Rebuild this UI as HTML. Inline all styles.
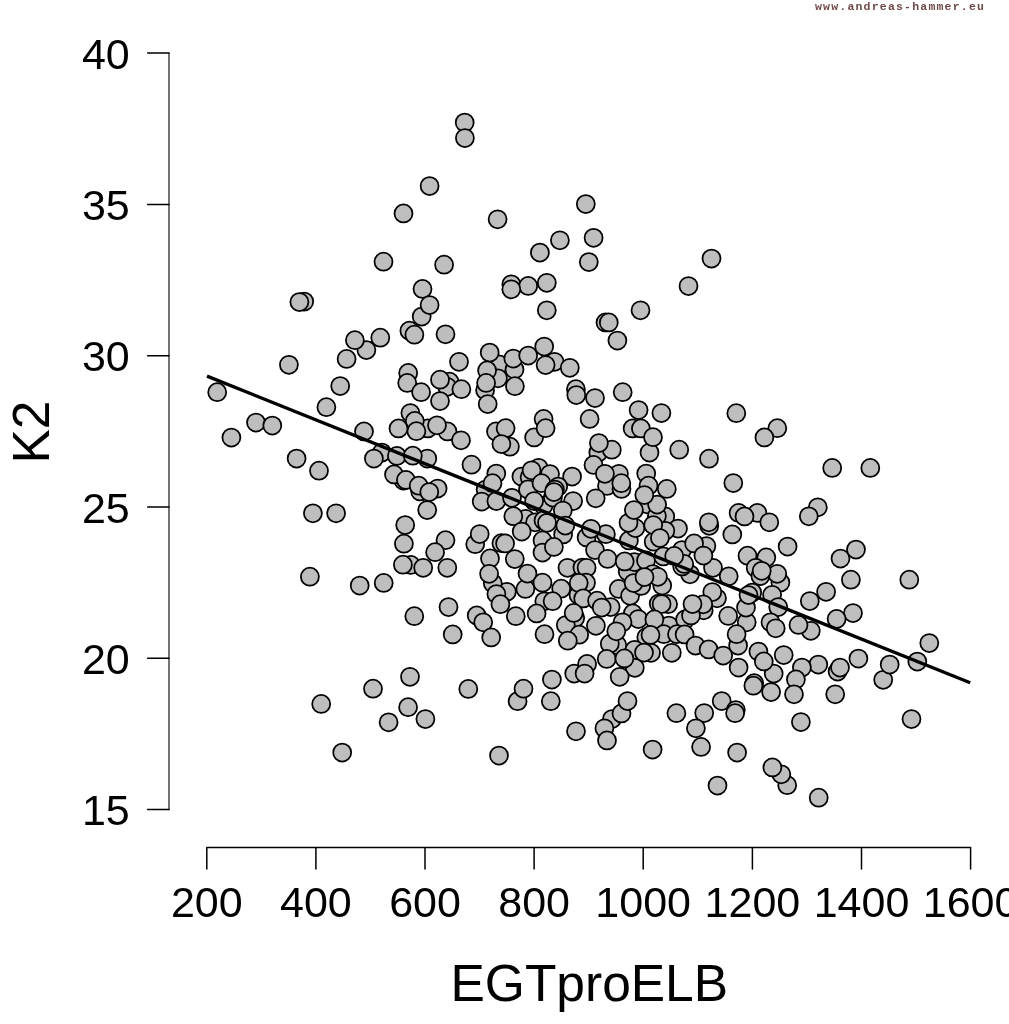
<!DOCTYPE html>
<html><head><meta charset="utf-8"><title>K2 vs EGTproELB</title>
<style>
html,body{margin:0;padding:0;background:#fff;}
body{width:1009px;height:1024px;overflow:hidden;position:relative;}
svg{position:absolute;left:0;top:0;display:block;}
text{font-family:"Liberation Sans",sans-serif;fill:#000;}
.tk{font-size:43px;}
.lab{font-size:51.5px;}
.wm{font-family:"Liberation Mono",monospace;font-size:11.5px;letter-spacing:1.2px;fill:#6e4848;font-weight:bold;}
.ax{stroke:#000;stroke-width:1.5;fill:none;stroke-linecap:round;stroke-linejoin:round;}
.pts circle{fill:#bebebe;stroke:#000;stroke-width:1.75;}
</style></head><body>
<svg width="1009" height="1024" viewBox="0 0 1009 1024">
<rect width="1009" height="1024" fill="#fff"/>
<g class="ax">
<path d="M169 53.1V809.6" stroke-width="1.1"/>
<path d="M147.6 53.1H169M147.6 204.4H169M147.6 355.7H169M147.6 507H169M147.6 658.3H169M147.6 809.6H169"/>
<path d="M206.8 869V847.5H970.6V869M315.9 847.5V869M425 847.5V869M534.1 847.5V869M643.2 847.5V869M752.4 847.5V869M861.5 847.5V869"/>
</g>
<g class="tk" text-anchor="end">
<text x="129.8" y="68.7">40</text>
<text x="129.8" y="220.0">35</text>
<text x="129.8" y="371.3">30</text>
<text x="129.8" y="522.6">25</text>
<text x="129.8" y="673.9">20</text>
<text x="129.8" y="825.2">15</text>
</g>
<g class="tk" text-anchor="middle">
<text x="206.8" y="917.4">200</text>
<text x="315.9" y="917.4">400</text>
<text x="425" y="917.4">600</text>
<text x="534.1" y="917.4">800</text>
<text x="643.2" y="917.4">1000</text>
<text x="752.4" y="917.4">1200</text>
<text x="861.5" y="917.4">1400</text>
<text x="970.6" y="917.4">1600</text>
</g>
<text class="lab" text-anchor="middle" x="589.3" y="1001">EGTproELB</text>
<text class="lab" text-anchor="middle" transform="translate(48.8 432) rotate(-90)">K2</text>
<text class="wm" x="815" y="10">www.andreas-hammer.eu</text>
<g class="pts">
<circle cx="383.5" cy="261.7" r="9"/>
<circle cx="464.7" cy="122.6" r="9"/>
<circle cx="464.9" cy="138.1" r="9"/>
<circle cx="429.6" cy="186.0" r="9"/>
<circle cx="403.5" cy="213.4" r="9"/>
<circle cx="497.6" cy="219.3" r="9"/>
<circle cx="559.9" cy="240.3" r="9"/>
<circle cx="539.9" cy="252.6" r="9"/>
<circle cx="444.1" cy="264.7" r="9"/>
<circle cx="422.5" cy="288.9" r="9"/>
<circle cx="511.3" cy="284.3" r="9"/>
<circle cx="528.2" cy="285.9" r="9"/>
<circle cx="511.3" cy="289.3" r="9"/>
<circle cx="546.8" cy="282.8" r="9"/>
<circle cx="585.8" cy="204.1" r="9"/>
<circle cx="588.8" cy="262.1" r="9"/>
<circle cx="593.6" cy="237.8" r="9"/>
<circle cx="711.5" cy="258.6" r="9"/>
<circle cx="688.5" cy="286.1" r="9"/>
<circle cx="304.2" cy="301.6" r="9"/>
<circle cx="299.4" cy="302.0" r="9"/>
<circle cx="366.4" cy="350.0" r="9"/>
<circle cx="354.9" cy="340.2" r="9"/>
<circle cx="380.3" cy="337.7" r="9"/>
<circle cx="346.6" cy="358.9" r="9"/>
<circle cx="288.9" cy="364.8" r="9"/>
<circle cx="340.2" cy="386.0" r="9"/>
<circle cx="217.2" cy="392.2" r="9"/>
<circle cx="326.4" cy="407.2" r="9"/>
<circle cx="256.0" cy="422.5" r="9"/>
<circle cx="272.3" cy="425.5" r="9"/>
<circle cx="231.4" cy="437.6" r="9"/>
<circle cx="364.0" cy="431.4" r="9"/>
<circle cx="296.6" cy="458.6" r="9"/>
<circle cx="319.0" cy="470.7" r="9"/>
<circle cx="381.9" cy="452.6" r="9"/>
<circle cx="373.9" cy="458.6" r="9"/>
<circle cx="421.7" cy="316.5" r="9"/>
<circle cx="429.6" cy="305.0" r="9"/>
<circle cx="409.4" cy="330.7" r="9"/>
<circle cx="414.4" cy="334.7" r="9"/>
<circle cx="445.5" cy="334.3" r="9"/>
<circle cx="546.8" cy="310.3" r="9"/>
<circle cx="459.0" cy="361.8" r="9"/>
<circle cx="408.2" cy="372.9" r="9"/>
<circle cx="407.2" cy="382.9" r="9"/>
<circle cx="421.1" cy="392.2" r="9"/>
<circle cx="449.5" cy="381.7" r="9"/>
<circle cx="447.1" cy="386.8" r="9"/>
<circle cx="461.4" cy="389.2" r="9"/>
<circle cx="440.0" cy="379.7" r="9"/>
<circle cx="440.0" cy="401.1" r="9"/>
<circle cx="499.0" cy="364.4" r="9"/>
<circle cx="498.0" cy="378.3" r="9"/>
<circle cx="489.7" cy="352.5" r="9"/>
<circle cx="487.1" cy="370.4" r="9"/>
<circle cx="485.1" cy="390.2" r="9"/>
<circle cx="486.1" cy="382.9" r="9"/>
<circle cx="487.7" cy="404.1" r="9"/>
<circle cx="514.5" cy="369.4" r="9"/>
<circle cx="513.3" cy="358.5" r="9"/>
<circle cx="514.9" cy="386.2" r="9"/>
<circle cx="528.2" cy="355.5" r="9"/>
<circle cx="544.2" cy="346.6" r="9"/>
<circle cx="554.5" cy="361.8" r="9"/>
<circle cx="545.6" cy="365.0" r="9"/>
<circle cx="569.8" cy="367.8" r="9"/>
<circle cx="575.9" cy="389.2" r="9"/>
<circle cx="576.3" cy="395.1" r="9"/>
<circle cx="427.7" cy="428.4" r="9"/>
<circle cx="447.5" cy="431.4" r="9"/>
<circle cx="410.4" cy="413.0" r="9"/>
<circle cx="414.8" cy="420.9" r="9"/>
<circle cx="416.4" cy="431.2" r="9"/>
<circle cx="437.0" cy="425.3" r="9"/>
<circle cx="461.0" cy="440.3" r="9"/>
<circle cx="398.5" cy="428.4" r="9"/>
<circle cx="543.6" cy="418.9" r="9"/>
<circle cx="534.1" cy="437.4" r="9"/>
<circle cx="545.6" cy="428.2" r="9"/>
<circle cx="496.0" cy="431.4" r="9"/>
<circle cx="505.6" cy="428.2" r="9"/>
<circle cx="509.9" cy="446.7" r="9"/>
<circle cx="501.4" cy="444.1" r="9"/>
<circle cx="640.5" cy="310.3" r="9"/>
<circle cx="605.5" cy="322.4" r="9"/>
<circle cx="608.8" cy="322.4" r="9"/>
<circle cx="617.4" cy="340.6" r="9"/>
<circle cx="622.7" cy="392.2" r="9"/>
<circle cx="595.0" cy="398.1" r="9"/>
<circle cx="589.6" cy="418.9" r="9"/>
<circle cx="638.6" cy="410.0" r="9"/>
<circle cx="661.4" cy="413.0" r="9"/>
<circle cx="632.6" cy="428.4" r="9"/>
<circle cx="640.9" cy="428.4" r="9"/>
<circle cx="649.5" cy="452.6" r="9"/>
<circle cx="653.0" cy="437.2" r="9"/>
<circle cx="736.3" cy="413.2" r="9"/>
<circle cx="777.3" cy="428.2" r="9"/>
<circle cx="764.4" cy="437.4" r="9"/>
<circle cx="598.3" cy="452.4" r="9"/>
<circle cx="611.8" cy="449.7" r="9"/>
<circle cx="598.9" cy="443.1" r="9"/>
<circle cx="679.2" cy="449.7" r="9"/>
<circle cx="832.2" cy="467.9" r="9"/>
<circle cx="870.3" cy="467.9" r="9"/>
<circle cx="396.9" cy="455.9" r="9"/>
<circle cx="427.3" cy="458.6" r="9"/>
<circle cx="412.8" cy="455.7" r="9"/>
<circle cx="471.5" cy="464.7" r="9"/>
<circle cx="403.4" cy="480.5" r="9"/>
<circle cx="394.0" cy="474.4" r="9"/>
<circle cx="405.9" cy="479.9" r="9"/>
<circle cx="420.2" cy="491.4" r="9"/>
<circle cx="418.7" cy="485.7" r="9"/>
<circle cx="437.6" cy="488.5" r="9"/>
<circle cx="429.3" cy="492.1" r="9"/>
<circle cx="427.2" cy="510.0" r="9"/>
<circle cx="405.2" cy="525.0" r="9"/>
<circle cx="403.9" cy="543.7" r="9"/>
<circle cx="445.5" cy="540.2" r="9"/>
<circle cx="475.2" cy="544.2" r="9"/>
<circle cx="479.7" cy="534.0" r="9"/>
<circle cx="485.6" cy="489.6" r="9"/>
<circle cx="481.7" cy="501.5" r="9"/>
<circle cx="496.3" cy="473.6" r="9"/>
<circle cx="492.5" cy="483.2" r="9"/>
<circle cx="496.4" cy="501.0" r="9"/>
<circle cx="512.0" cy="497.8" r="9"/>
<circle cx="521.4" cy="476.6" r="9"/>
<circle cx="529.6" cy="477.3" r="9"/>
<circle cx="538.6" cy="467.8" r="9"/>
<circle cx="550.0" cy="474.1" r="9"/>
<circle cx="531.6" cy="470.3" r="9"/>
<circle cx="572.1" cy="476.6" r="9"/>
<circle cx="528.0" cy="489.4" r="9"/>
<circle cx="541.5" cy="483.2" r="9"/>
<circle cx="558.2" cy="486.5" r="9"/>
<circle cx="554.9" cy="489.6" r="9"/>
<circle cx="543.5" cy="505.5" r="9"/>
<circle cx="552.9" cy="497.6" r="9"/>
<circle cx="553.9" cy="492.1" r="9"/>
<circle cx="534.1" cy="501.0" r="9"/>
<circle cx="573.1" cy="501.0" r="9"/>
<circle cx="562.8" cy="510.5" r="9"/>
<circle cx="525.7" cy="518.9" r="9"/>
<circle cx="513.3" cy="516.2" r="9"/>
<circle cx="535.1" cy="522.3" r="9"/>
<circle cx="543.5" cy="520.4" r="9"/>
<circle cx="547.0" cy="522.8" r="9"/>
<circle cx="563.1" cy="534.4" r="9"/>
<circle cx="565.3" cy="525.5" r="9"/>
<circle cx="521.7" cy="531.6" r="9"/>
<circle cx="501.4" cy="543.2" r="9"/>
<circle cx="505.1" cy="543.4" r="9"/>
<circle cx="542.5" cy="540.4" r="9"/>
<circle cx="542.5" cy="552.5" r="9"/>
<circle cx="553.9" cy="546.9" r="9"/>
<circle cx="586.6" cy="537.4" r="9"/>
<circle cx="682.0" cy="550.0" r="9"/>
<circle cx="593.5" cy="464.9" r="9"/>
<circle cx="618.9" cy="473.8" r="9"/>
<circle cx="607.0" cy="485.9" r="9"/>
<circle cx="604.9" cy="473.8" r="9"/>
<circle cx="621.5" cy="488.9" r="9"/>
<circle cx="621.3" cy="483.2" r="9"/>
<circle cx="595.7" cy="498.3" r="9"/>
<circle cx="646.2" cy="473.6" r="9"/>
<circle cx="648.5" cy="485.7" r="9"/>
<circle cx="666.8" cy="488.9" r="9"/>
<circle cx="647.0" cy="504.3" r="9"/>
<circle cx="665.3" cy="516.4" r="9"/>
<circle cx="656.9" cy="515.9" r="9"/>
<circle cx="657.1" cy="504.5" r="9"/>
<circle cx="644.3" cy="495.1" r="9"/>
<circle cx="628.9" cy="540.4" r="9"/>
<circle cx="635.4" cy="528.0" r="9"/>
<circle cx="628.5" cy="522.8" r="9"/>
<circle cx="633.9" cy="510.0" r="9"/>
<circle cx="678.0" cy="528.5" r="9"/>
<circle cx="665.3" cy="530.8" r="9"/>
<circle cx="653.7" cy="541.7" r="9"/>
<circle cx="653.2" cy="525.1" r="9"/>
<circle cx="659.9" cy="538.0" r="9"/>
<circle cx="605.9" cy="534.2" r="9"/>
<circle cx="591.0" cy="528.8" r="9"/>
<circle cx="595.0" cy="550.1" r="9"/>
<circle cx="709.0" cy="458.7" r="9"/>
<circle cx="733.3" cy="483.0" r="9"/>
<circle cx="738.6" cy="512.9" r="9"/>
<circle cx="757.4" cy="512.9" r="9"/>
<circle cx="744.5" cy="516.4" r="9"/>
<circle cx="769.3" cy="522.3" r="9"/>
<circle cx="709.3" cy="525.8" r="9"/>
<circle cx="708.8" cy="522.3" r="9"/>
<circle cx="732.3" cy="534.4" r="9"/>
<circle cx="706.4" cy="546.1" r="9"/>
<circle cx="694.1" cy="543.4" r="9"/>
<circle cx="787.6" cy="546.6" r="9"/>
<circle cx="435.1" cy="552.2" r="9"/>
<circle cx="410.8" cy="564.9" r="9"/>
<circle cx="402.9" cy="564.7" r="9"/>
<circle cx="423.2" cy="567.8" r="9"/>
<circle cx="447.3" cy="567.8" r="9"/>
<circle cx="414.3" cy="616.2" r="9"/>
<circle cx="448.5" cy="607.0" r="9"/>
<circle cx="452.7" cy="634.4" r="9"/>
<circle cx="476.7" cy="615.4" r="9"/>
<circle cx="483.2" cy="622.3" r="9"/>
<circle cx="490.0" cy="558.4" r="9"/>
<circle cx="514.8" cy="559.1" r="9"/>
<circle cx="506.8" cy="591.8" r="9"/>
<circle cx="492.8" cy="583.2" r="9"/>
<circle cx="496.4" cy="594.1" r="9"/>
<circle cx="489.1" cy="573.8" r="9"/>
<circle cx="500.4" cy="604.2" r="9"/>
<circle cx="525.4" cy="588.9" r="9"/>
<circle cx="527.5" cy="573.5" r="9"/>
<circle cx="542.5" cy="582.7" r="9"/>
<circle cx="561.2" cy="588.7" r="9"/>
<circle cx="544.3" cy="601.3" r="9"/>
<circle cx="552.6" cy="601.2" r="9"/>
<circle cx="536.6" cy="613.4" r="9"/>
<circle cx="515.8" cy="616.2" r="9"/>
<circle cx="544.5" cy="634.2" r="9"/>
<circle cx="491.2" cy="637.4" r="9"/>
<circle cx="567.5" cy="567.8" r="9"/>
<circle cx="582.4" cy="567.6" r="9"/>
<circle cx="586.6" cy="567.8" r="9"/>
<circle cx="586.0" cy="582.7" r="9"/>
<circle cx="578.5" cy="595.1" r="9"/>
<circle cx="578.7" cy="582.9" r="9"/>
<circle cx="583.2" cy="598.4" r="9"/>
<circle cx="575.2" cy="617.9" r="9"/>
<circle cx="565.8" cy="625.0" r="9"/>
<circle cx="573.7" cy="612.9" r="9"/>
<circle cx="579.2" cy="634.7" r="9"/>
<circle cx="567.8" cy="640.7" r="9"/>
<circle cx="607.6" cy="558.9" r="9"/>
<circle cx="627.7" cy="571.6" r="9"/>
<circle cx="634.4" cy="562.1" r="9"/>
<circle cx="646.0" cy="560.4" r="9"/>
<circle cx="624.7" cy="561.4" r="9"/>
<circle cx="663.3" cy="556.4" r="9"/>
<circle cx="690.0" cy="574.3" r="9"/>
<circle cx="682.2" cy="566.4" r="9"/>
<circle cx="684.2" cy="563.9" r="9"/>
<circle cx="674.2" cy="555.9" r="9"/>
<circle cx="618.7" cy="588.9" r="9"/>
<circle cx="630.1" cy="595.8" r="9"/>
<circle cx="641.2" cy="585.9" r="9"/>
<circle cx="633.6" cy="583.0" r="9"/>
<circle cx="652.9" cy="574.1" r="9"/>
<circle cx="662.2" cy="585.5" r="9"/>
<circle cx="657.9" cy="576.8" r="9"/>
<circle cx="644.5" cy="577.0" r="9"/>
<circle cx="597.1" cy="600.7" r="9"/>
<circle cx="610.6" cy="607.0" r="9"/>
<circle cx="601.7" cy="607.5" r="9"/>
<circle cx="658.7" cy="603.5" r="9"/>
<circle cx="668.1" cy="604.2" r="9"/>
<circle cx="661.6" cy="604.0" r="9"/>
<circle cx="632.8" cy="613.4" r="9"/>
<circle cx="638.3" cy="619.1" r="9"/>
<circle cx="668.8" cy="625.5" r="9"/>
<circle cx="654.4" cy="619.4" r="9"/>
<circle cx="617.3" cy="645.3" r="9"/>
<circle cx="609.8" cy="643.7" r="9"/>
<circle cx="622.5" cy="622.3" r="9"/>
<circle cx="616.3" cy="631.3" r="9"/>
<circle cx="595.9" cy="625.8" r="9"/>
<circle cx="685.1" cy="619.4" r="9"/>
<circle cx="646.3" cy="637.2" r="9"/>
<circle cx="663.8" cy="634.2" r="9"/>
<circle cx="677.0" cy="634.2" r="9"/>
<circle cx="684.6" cy="634.4" r="9"/>
<circle cx="650.5" cy="634.9" r="9"/>
<circle cx="713.0" cy="567.8" r="9"/>
<circle cx="703.4" cy="555.5" r="9"/>
<circle cx="728.7" cy="576.3" r="9"/>
<circle cx="766.3" cy="557.4" r="9"/>
<circle cx="747.5" cy="555.7" r="9"/>
<circle cx="755.7" cy="567.8" r="9"/>
<circle cx="780.4" cy="582.5" r="9"/>
<circle cx="777.2" cy="573.8" r="9"/>
<circle cx="760.4" cy="576.0" r="9"/>
<circle cx="761.7" cy="570.8" r="9"/>
<circle cx="772.1" cy="594.8" r="9"/>
<circle cx="746.7" cy="622.3" r="9"/>
<circle cx="746.0" cy="607.5" r="9"/>
<circle cx="752.2" cy="592.6" r="9"/>
<circle cx="748.5" cy="595.1" r="9"/>
<circle cx="717.0" cy="598.3" r="9"/>
<circle cx="712.3" cy="592.1" r="9"/>
<circle cx="703.7" cy="610.3" r="9"/>
<circle cx="703.2" cy="604.3" r="9"/>
<circle cx="691.0" cy="615.4" r="9"/>
<circle cx="692.5" cy="604.0" r="9"/>
<circle cx="728.2" cy="615.9" r="9"/>
<circle cx="738.1" cy="645.6" r="9"/>
<circle cx="736.6" cy="634.2" r="9"/>
<circle cx="778.2" cy="607.0" r="9"/>
<circle cx="770.5" cy="622.3" r="9"/>
<circle cx="775.7" cy="628.3" r="9"/>
<circle cx="695.5" cy="645.6" r="9"/>
<circle cx="410.0" cy="676.8" r="9"/>
<circle cx="468.3" cy="688.9" r="9"/>
<circle cx="408.1" cy="707.2" r="9"/>
<circle cx="425.4" cy="719.1" r="9"/>
<circle cx="517.6" cy="701.2" r="9"/>
<circle cx="523.5" cy="688.7" r="9"/>
<circle cx="551.9" cy="679.5" r="9"/>
<circle cx="550.8" cy="701.2" r="9"/>
<circle cx="574.2" cy="673.6" r="9"/>
<circle cx="587.1" cy="663.9" r="9"/>
<circle cx="584.6" cy="673.6" r="9"/>
<circle cx="576.0" cy="731.3" r="9"/>
<circle cx="634.6" cy="649.8" r="9"/>
<circle cx="606.7" cy="658.9" r="9"/>
<circle cx="634.8" cy="667.8" r="9"/>
<circle cx="624.4" cy="658.4" r="9"/>
<circle cx="651.0" cy="652.8" r="9"/>
<circle cx="644.0" cy="652.5" r="9"/>
<circle cx="671.8" cy="652.8" r="9"/>
<circle cx="619.7" cy="676.8" r="9"/>
<circle cx="612.0" cy="719.1" r="9"/>
<circle cx="621.5" cy="713.4" r="9"/>
<circle cx="627.5" cy="701.0" r="9"/>
<circle cx="604.4" cy="728.3" r="9"/>
<circle cx="607.0" cy="740.4" r="9"/>
<circle cx="676.4" cy="713.2" r="9"/>
<circle cx="652.6" cy="749.6" r="9"/>
<circle cx="708.6" cy="649.4" r="9"/>
<circle cx="723.2" cy="655.5" r="9"/>
<circle cx="738.6" cy="667.6" r="9"/>
<circle cx="758.4" cy="651.5" r="9"/>
<circle cx="773.7" cy="673.6" r="9"/>
<circle cx="763.8" cy="661.4" r="9"/>
<circle cx="783.7" cy="655.0" r="9"/>
<circle cx="754.2" cy="683.2" r="9"/>
<circle cx="753.4" cy="685.7" r="9"/>
<circle cx="771.1" cy="692.1" r="9"/>
<circle cx="721.7" cy="701.0" r="9"/>
<circle cx="735.8" cy="710.0" r="9"/>
<circle cx="735.1" cy="713.2" r="9"/>
<circle cx="704.2" cy="713.1" r="9"/>
<circle cx="695.9" cy="728.3" r="9"/>
<circle cx="701.1" cy="746.9" r="9"/>
<circle cx="312.9" cy="513.3" r="9"/>
<circle cx="336.1" cy="513.3" r="9"/>
<circle cx="309.9" cy="576.7" r="9"/>
<circle cx="359.7" cy="585.6" r="9"/>
<circle cx="383.7" cy="582.9" r="9"/>
<circle cx="373.0" cy="688.7" r="9"/>
<circle cx="321.2" cy="703.9" r="9"/>
<circle cx="342.2" cy="752.5" r="9"/>
<circle cx="388.6" cy="722.3" r="9"/>
<circle cx="499.0" cy="755.5" r="9"/>
<circle cx="737.1" cy="752.5" r="9"/>
<circle cx="717.5" cy="785.6" r="9"/>
<circle cx="787.2" cy="785.2" r="9"/>
<circle cx="781.3" cy="774.3" r="9"/>
<circle cx="772.4" cy="767.4" r="9"/>
<circle cx="817.8" cy="507.3" r="9"/>
<circle cx="808.8" cy="516.3" r="9"/>
<circle cx="840.5" cy="558.5" r="9"/>
<circle cx="856.0" cy="549.6" r="9"/>
<circle cx="850.9" cy="579.7" r="9"/>
<circle cx="909.3" cy="579.7" r="9"/>
<circle cx="809.8" cy="601.1" r="9"/>
<circle cx="826.1" cy="591.8" r="9"/>
<circle cx="853.0" cy="613.0" r="9"/>
<circle cx="836.6" cy="618.9" r="9"/>
<circle cx="810.8" cy="630.8" r="9"/>
<circle cx="798.5" cy="624.9" r="9"/>
<circle cx="929.3" cy="643.1" r="9"/>
<circle cx="917.3" cy="661.5" r="9"/>
<circle cx="858.4" cy="658.6" r="9"/>
<circle cx="883.2" cy="679.8" r="9"/>
<circle cx="889.7" cy="664.5" r="9"/>
<circle cx="818.3" cy="664.5" r="9"/>
<circle cx="837.6" cy="671.5" r="9"/>
<circle cx="840.0" cy="667.5" r="9"/>
<circle cx="801.9" cy="667.5" r="9"/>
<circle cx="795.9" cy="679.4" r="9"/>
<circle cx="794.0" cy="694.3" r="9"/>
<circle cx="835.2" cy="694.3" r="9"/>
<circle cx="800.9" cy="722.0" r="9"/>
<circle cx="911.5" cy="719.0" r="9"/>
<circle cx="818.7" cy="797.7" r="9"/>
</g>
<path d="M207 376.1L970.2 682.8" stroke="#000" stroke-width="3.3" fill="none"/>
</svg>
</body></html>
